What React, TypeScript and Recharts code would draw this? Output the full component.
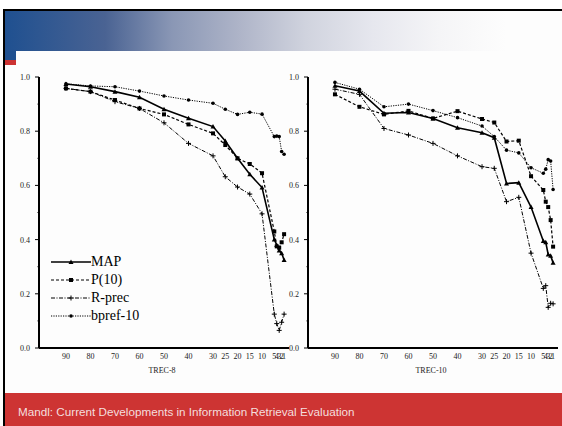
import { LineChart, Line, XAxis, YAxis, Legend } from 'recharts';

// rank cutoffs on the x axis (linear, reversed)
const cutoffs = [90, 80, 70, 60, 50, 40, 30, 25, 20, 15, 10, 5, 4, 3, 2, 1];
const yTicks = [0, 0.1, 0.2, 0.3, 0.4, 0.5, 0.6, 0.7, 0.8, 0.9, 1.0];

// TREC-8
const map8 = [0.974, 0.964, 0.946, 0.925, 0.881, 0.848, 0.817, 0.764, 0.7, 0.641, 0.592, 0.4, 0.38, 0.36, 0.35, 0.325];
const p10_8 = [0.958, 0.946, 0.915, 0.884, 0.862, 0.825, 0.792, 0.749, 0.7, 0.679, 0.645, 0.43, 0.375, 0.37, 0.39, 0.42];
const rprec8 = [0.958, 0.946, 0.909, 0.884, 0.831, 0.755, 0.709, 0.632, 0.594, 0.568, 0.495, 0.125, 0.09, 0.065, 0.095, 0.125];
const bpref8 = [0.975, 0.967, 0.964, 0.948, 0.93, 0.915, 0.903, 0.881, 0.862, 0.87, 0.863, 0.78, 0.782, 0.78, 0.725, 0.715];

// TREC-10
const map10 = [0.968, 0.948, 0.866, 0.869, 0.847, 0.813, 0.794, 0.776, 0.607, 0.61, 0.52, 0.395, 0.39, 0.345, 0.34, 0.315];
const p10_10 = [0.936, 0.89, 0.862, 0.875, 0.847, 0.874, 0.845, 0.832, 0.762, 0.765, 0.634, 0.583, 0.54, 0.52, 0.472, 0.374];
const rprec10 = [0.955, 0.936, 0.81, 0.786, 0.755, 0.709, 0.669, 0.663, 0.54, 0.556, 0.35, 0.22, 0.23, 0.15, 0.165, 0.163];
const bpref10 = [0.98, 0.955, 0.89, 0.9, 0.876, 0.85, 0.819, 0.78, 0.73, 0.72, 0.665, 0.645, 0.66, 0.695, 0.69, 0.585];

const buildRows = (map: number[], p10: number[], rprec: number[], bpref: number[]) =>
  cutoffs.map((cutoff, i) => ({ cutoff, map: map[i], p10: p10[i], rprec: rprec[i], bpref: bpref[i] }));

const trec8 = buildRows(map8, p10_8, rprec8, bpref8);
const trec10 = buildRows(map10, p10_10, rprec10, bpref10);

const series = [
  { key: 'map', name: 'MAP', width: 1.6, dash: undefined, marker: 'triangle' },
  { key: 'p10', name: 'P(10)', width: 1.2, dash: '3 2', marker: 'square' },
  { key: 'rprec', name: 'R-prec', width: 1, dash: '4 1.5 1 1.5', marker: 'plus' },
  { key: 'bpref', name: 'bpref-10', width: 1, dash: '1.2 1.2', marker: 'dot' },
];

const serif = '"Liberation Serif", "DejaVu Serif", serif';

function Marker({ cx, cy, kind }: { cx?: number; cy?: number; kind: string }) {
  if (cx == null || cy == null) return null;
  if (kind === 'square') return <rect x={cx - 2} y={cy - 2} width={4} height={4} fill="#000" />;
  if (kind === 'triangle')
    return <path d={`M${cx - 2.5},${cy + 2} L${cx + 2.5},${cy + 2} L${cx},${cy - 2.5} Z`} fill="#000" />;
  if (kind === 'plus')
    return <path d={`M${cx - 2.5},${cy} H${cx + 2.5} M${cx},${cy - 2.5} V${cy + 2.5}`} stroke="#000" strokeWidth={1} />;
  return <circle cx={cx} cy={cy} r={1.8} fill="#000" />;
}

const YTick = ({ x, y, payload }: any) => {
  const v = payload.value;
  const major = Math.round(v * 10) % 2 === 0;
  return (
    <g>
      <line x1={x - (major ? 4 : 1.5)} y1={y} x2={x} y2={y} stroke="#000" strokeWidth={1} />
      {major && (
        <text x={x - 9} y={y + 3} textAnchor="end" fontSize={8} fontFamily={serif} fill="#222">
          {v.toFixed(1)}
        </text>
      )}
    </g>
  );
};

const XTick = ({ x, y, payload }: any) => (
  <text x={x} y={y + 11} textAnchor="middle" fontSize={8} fontFamily={serif} fill="#222">
    {payload.value}
  </text>
);

const renderLegend = ({ payload }: any) => (
  <div style={{ fontFamily: serif, fontSize: 14, color: '#000' }}>
    {(payload ?? []).map((entry: any) => {
      const s = series.find((d) => d.key === entry.dataKey) ?? series[0];
      return (
        <div key={s.key} style={{ display: 'flex', alignItems: 'center', height: 18, lineHeight: '18px' }}>
          <svg width={40} height={18} style={{ display: 'block' }}>
            <line x1={0} y1={9} x2={40} y2={9} stroke="#000" strokeWidth={s.width} strokeDasharray={s.dash} />
            <Marker cx={20} cy={9} kind={s.marker} />
          </svg>
          <span>{s.name}</span>
        </div>
      );
    })}
  </div>
);

function Panel({ data, title, left, legend }: { data: any[]; title: string; left: number; legend?: boolean }) {
  return (
    <div style={{ position: 'absolute', left, top: 60 }}>
      <LineChart width={290} height={318} data={data} margin={{ top: 17, right: 1, bottom: 0, left: 0 }}>
        <XAxis
          dataKey="cutoff"
          type="number"
          domain={[-1, 101]}
          reversed
          ticks={cutoffs}
          interval={0}
          tickLine={false}
          tickSize={0}
          tickMargin={0}
          height={30}
          axisLine={{ stroke: '#000', strokeWidth: 2 }}
          tick={<XTick />}
          label={{
            content: ({ viewBox }: any) => (
              <text
                x={viewBox.x + viewBox.width / 2 - 2}
                y={viewBox.y + 25}
                textAnchor="middle"
                fontSize={8}
                fontFamily={serif}
                fill="#222"
              >
                {title}
              </text>
            ),
          }}
        />
        <YAxis
          type="number"
          domain={[0, 1]}
          ticks={yTicks}
          interval={0}
          width={39}
          tickLine={false}
          tickSize={0}
          tickMargin={0}
          axisLine={{ stroke: '#000', strokeWidth: 2 }}
          tick={<YTick />}
        />
        {legend && (
          <Legend
            layout="vertical"
            align="center"
            verticalAlign="middle"
            content={renderLegend}
            wrapperStyle={{ left: 51, top: 193, width: 120 }}
          />
        )}
        {series.map((s) => (
          <Line
            key={s.key}
            dataKey={s.key}
            name={s.name}
            type="linear"
            stroke="#000"
            strokeWidth={s.width}
            strokeDasharray={s.dash}
            isAnimationActive={false}
            dot={(p: any) => (
              <g key={`${s.key}-${p.index}`}>
                <Marker cx={p.cx} cy={p.cy} kind={s.marker} />
              </g>
            )}
            activeDot={false}
          />
        ))}
      </LineChart>
    </div>
  );
}

export default function App() {
  return (
    <div style={{ position: 'absolute', left: 0, top: 0, width: 562, height: 426, background: '#fdfdfd', overflow: 'hidden' }}>
      {/* slide frame */}
      <div style={{ position: 'absolute', left: 0, top: 0, width: 562, height: 9, background: '#fff' }} />
      <div style={{ position: 'absolute', left: 3, top: 9, width: 559, height: 2, background: '#000' }} />
      <div style={{ position: 'absolute', left: 3, top: 9, width: 2, height: 417, background: '#000' }} />
      <div
        style={{
          position: 'absolute',
          left: 5,
          top: 11,
          width: 557,
          height: 40,
          background:
            'linear-gradient(to right, #1f5090 0%, #4a6393 18%, #8a97b5 30%, #aeb4c8 42%, #d0d3de 54%, #e6e7ee 66%, #f5f5f7 78%, #fdfdfd 90%)',
        }}
      />
      <div style={{ position: 'absolute', left: 5, top: 51, width: 11, height: 9, background: '#1f5090' }} />
      <div style={{ position: 'absolute', left: 5, top: 60, width: 11, height: 5, background: '#cc3333' }} />

      <Panel data={trec8} title="TREC-8" left={0} legend />
      <Panel data={trec10} title="TREC-10" left={269} />

      {/* footer */}
      <div style={{ position: 'absolute', left: 5, top: 393, width: 557, height: 33, background: '#cd3433' }} />
      <div
        style={{
          position: 'absolute',
          left: 18,
          top: 406,
          fontFamily: '"Liberation Sans", Arial, sans-serif',
          fontSize: 11.7,
          lineHeight: '12px',
          color: '#f4dede',
          whiteSpace: 'nowrap',
        }}
      >
        Mandl: Current Developments in Information Retrieval Evaluation
      </div>
    </div>
  );
}
